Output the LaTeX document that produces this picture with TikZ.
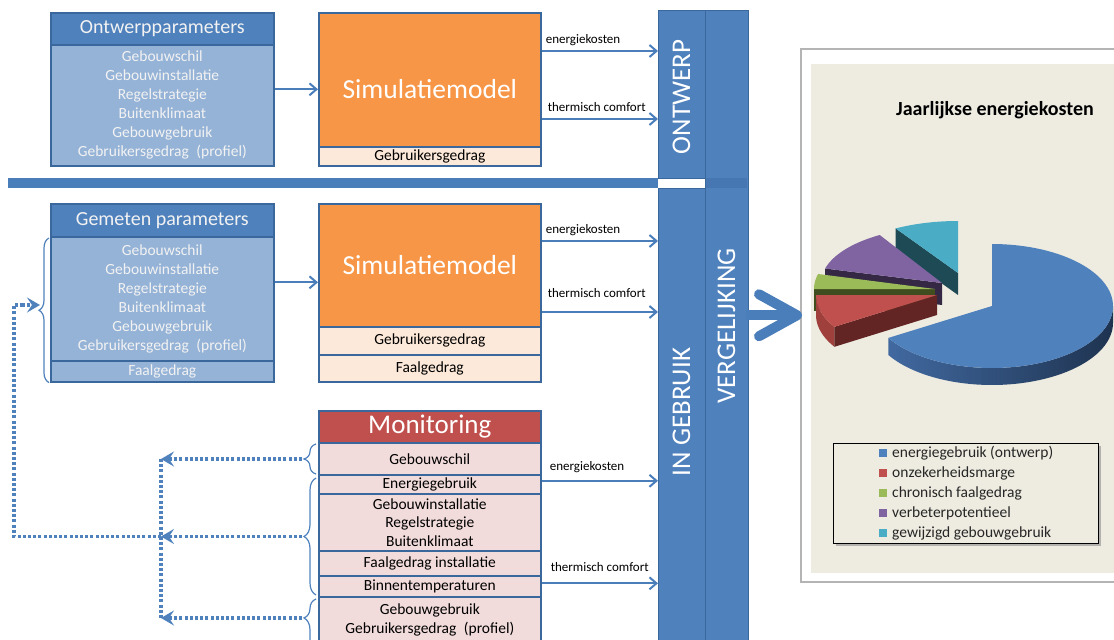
\documentclass[tikz,border=0pt]{standalone}
\usepackage{fontspec}
\setmainfont{Carlito}
\usetikzlibrary{arrows.meta,decorations.pathreplacing,shadows,calc}
\definecolor{hdrblue}{HTML}{4F81BD}
\definecolor{bodyblue}{HTML}{95B3D7}
\definecolor{edgeblue}{HTML}{3A679C}
\definecolor{orng}{HTML}{F79646}
\definecolor{peach}{HTML}{FDE9D9}
\definecolor{monred}{HTML}{C0504D}
\definecolor{pinkrow}{HTML}{F2DCDB}
\definecolor{arrblue}{HTML}{4A7EBB}
\definecolor{beige}{HTML}{EEECE1}
\definecolor{paletext}{HTML}{F2F2F2}
\definecolor{framegray}{HTML}{B4B4B4}
\definecolor{band}{HTML}{4677B2}
\definecolor{pblue}{HTML}{4F81BD}
\definecolor{pblueL}{HTML}{4169A0}
\definecolor{pblueD}{HTML}{1E3350}
\definecolor{pred}{HTML}{C0504D}
\definecolor{predW}{HTML}{A0403D}
\definecolor{predD}{HTML}{632523}
\definecolor{pgreen}{HTML}{9BBB59}
\definecolor{pgreenD}{HTML}{404E1F}
\definecolor{ppurple}{HTML}{8064A2}
\definecolor{ppurpleD}{HTML}{342845}
\definecolor{pcyan}{HTML}{4BACC6}
\definecolor{pcyanD}{HTML}{1E4A55}
\definecolor{legtext}{HTML}{262626}
\begin{document}
\begin{tikzpicture}[x=1pt,y=-1pt,
 cell/.style={draw=edgeblue,line width=1.6pt,anchor=north west,inner sep=0pt,align=center,minimum width=223pt},
 hdr/.style={cell,fill=hdrblue,text=paletext,font=\fontsize{20}{24}\selectfont},
 pbody/.style={cell,fill=bodyblue,text=paletext,font=\fontsize{15.5}{19}\selectfont},
 sim/.style={cell,minimum width=222pt,fill=orng,text=white,font=\fontsize{27.5}{32}\selectfont},
 simrow/.style={cell,minimum width=222pt,fill=peach,text=black,font=\fontsize{15.5}{19}\selectfont},
 monhdr/.style={cell,minimum width=222pt,fill=monred,text=white,font=\fontsize{27}{30}\selectfont},
 monrow/.style={cell,minimum width=222pt,fill=pinkrow,text=black,font=\fontsize{15.5}{18.5}\selectfont},
 vbar/.style={draw=edgeblue,line width=1.2pt,fill=hdrblue,anchor=north west,inner sep=0pt},
 bartext/.style={rotate=90,text=white,inner sep=0pt,font=\fontsize{27}{30}\selectfont},
 arr/.style={draw=arrblue,line width=2pt,-{Straight Barb[length=7pt,width=12pt]}},
 lbl/.style={font=\fontsize{13}{15}\selectfont,anchor=base west,inner sep=0pt},
 dotline/.style={draw=hdrblue,line width=3.2pt,dash pattern=on 3pt off 2.2pt},
 dotarr/.style={dotline,-{Stealth[length=13pt,width=15pt,inset=5pt]}},
 mybrace/.style={draw=hdrblue,line width=1.2pt,decorate,decoration={brace,amplitude=#1}},
 bigarr/.style={draw=arrblue,line width=10pt,-{Straight Barb[length=38pt,width=42pt,round]}},
 legsq/.style={inner sep=0pt,minimum size=8pt},
 legtxt/.style={anchor=west,inner sep=0pt,text=legtext,font=\fontsize{15.5}{18}\selectfont},
]
\useasboundingbox (0,0) rectangle (1114,640);
\clip (0,0) rectangle (1114,640);

% ---------- chart panel ----------
\node[draw=framegray,line width=1.5pt,fill=white,anchor=north west,minimum width=330pt,minimum height=533pt,inner sep=0pt] (chart) at (800,48) {};
\fill[beige] (811,64) rectangle (1125,573);
\node[font=\bfseries\fontsize{20}{24}\selectfont,text=black] (title) at (995,110) {Jaarlijkse energiekosten};

% cyan slice [90,121]
\fill[pcyanD] (958,273) -- ({958+121*cos(121)},{273-52*sin(121)}) -- ++(0,22) -- (958,295) -- cycle;
\fill[pcyan] (958,273) -- plot[domain=90:121,samples=20] ({958+121*cos(\x)},{273-52*sin(\x)}) -- cycle;
% purple slice [121,165]
\fill[ppurpleD] (942,283) -- ({942+121*cos(165)},{283-56*sin(165)}) -- ++(0,22) -- (942,305) -- cycle;
\fill[ppurple] (942,283) -- plot[domain=121:165,samples=25] ({942+121*cos(\x)},{283-56*sin(\x)}) -- cycle;
% green slice [165,180]
\fill[pgreenD] (935,289) -- ({935+121*cos(180)},{289-58*sin(180)}) -- ++(0,22) -- (935,311) -- cycle;
\fill[pgreen] (935,289) -- plot[domain=165:180,samples=12] ({935+121*cos(\x)},{289-58*sin(\x)}) -- cycle;
% red slice [180,212]
\fill[predW] plot[domain=180:212,samples=20] ({937+121*cos(\x)},{295-60*sin(\x)}) -- plot[domain=212:180,samples=20] ({937+121*cos(\x)},{315-60*sin(\x)}) -- cycle;
\fill[predD] (937,295) -- ({937+121*cos(212)},{295-60*sin(212)}) -- ++(0,20) -- (937,315) -- cycle;
\fill[pred] (937,295) -- plot[domain=180:212,samples=20] ({937+121*cos(\x)},{295-60*sin(\x)}) -- cycle;
% blue slice [-149,90]
\shade[left color=pblueL,right color=pblueD] plot[domain=-149:0,samples=50] ({992+121*cos(\x)},{306-62*sin(\x)}) -- plot[domain=0:-149,samples=50] ({992+121*cos(\x)},{323-62*sin(\x)}) -- cycle;
\fill[pblue] (992,306) -- plot[domain=-149:90,samples=80] ({992+121*cos(\x)},{306-62*sin(\x)}) -- cycle;

% legend
\node[draw=black,line width=0.8pt,fill=beige,anchor=north west,minimum width=265pt,minimum height=100pt,inner sep=0pt,
      drop shadow={shadow xshift=3pt,shadow yshift=-3pt,fill=black!45,opacity=0.6}] (legend) at (833,443) {};
\foreach \c/\t [count=\i] in {pblue/energiegebruik (ontwerp),pred/onzekerheidsmarge,pgreen/chronisch faalgedrag,ppurple/verbeterpotentieel,pcyan/gewijzigd gebouwgebruik}{
  \node[legsq,fill=\c] (sq\i) at (883,{433+20*\i}) {};
  \node[legtxt] (lt\i) at (892,{433+20*\i}) {\t};
}

% ---------- top: ontwerp ----------
\node[hdr,minimum height=32pt] (oph) at (50,12) {Ontwerpparameters};
\node[pbody,minimum height=121pt] (opb) at (50,44) {Gebouwschil\\Gebouwinstallatie\\Regelstrategie\\Buitenklimaat\\Gebouwgebruik\\Gebruikersgedrag\hspace{4pt} (profiel)};
\node[sim,text height=86pt,text depth=48pt] (s1) at (318,12) {Simulatiemodel};
\node[simrow,minimum height=19pt] (s1f) at (318,146) {Gebruikersgedrag};

% ---------- middle: gemeten ----------
\node[hdr,minimum height=33pt] (gph) at (50,203) {Gemeten parameters};
\node[pbody,minimum height=124pt] (gpb) at (50,236) {Gebouwschil\\Gebouwinstallatie\\Regelstrategie\\Buitenklimaat\\Gebouwgebruik\\Gebruikersgedrag\hspace{4pt} (profiel)};
\node[pbody,minimum height=21pt] (gpf) at (50,360) {Faalgedrag};
\node[sim,minimum height=123pt] (s2) at (318,203) {Simulatiemodel};
\node[simrow,minimum height=28pt] (s2a) at (318,326) {Gebruikersgedrag};
\node[simrow,minimum height=27pt] (s2b) at (318,354) {Faalgedrag};

% ---------- monitoring ----------
\node[monhdr,minimum height=32pt] (mh) at (318,410) {Monitoring};
\node[monrow,minimum height=32pt] (m1) at (318,442) {Gebouwschil};
\node[monrow,minimum height=19pt] (m2) at (318,474) {Energiegebruik};
\node[monrow,minimum height=57pt] (m3) at (318,493) {Gebouwinstallatie\\Regelstrategie\\Buitenklimaat};
\node[monrow,minimum height=25pt] (m4) at (318,550) {Faalgedrag installatie};
\node[monrow,minimum height=21pt] (m5) at (318,575) {Binnentemperaturen};
\node[monrow,minimum height=46pt] (m6) at (318,596) {Gebouwgebruik\\Gebruikersgedrag\hspace{4pt} (profiel)};

% ---------- bars ----------
\node[fill=arrblue,anchor=north west,minimum width=650pt,minimum height=10pt,inner sep=0pt] (sep) at (8,178) {};
\node[vbar,minimum width=47pt,minimum height=168pt] (ontw) at (658,10) {};
\node[vbar,minimum width=47pt,minimum height=470pt] (inge) at (658,188) {};
\node[vbar,minimum width=43pt,minimum height=650pt] (verg) at (705,10) {};
\fill[band] (705.6,178) rectangle (747.4,188);
\node[bartext] (ontwt) at (681.5,97) {ONTWERP};
\node[bartext] (inget) at (681.5,412) {IN GEBRUIK};
\node[bartext] (vergt) at (726.5,326) {VERGELIJKING};

% ---------- arrows into simulation models ----------
\coordinate (opmid) at ($(oph.north east)!0.5!(opb.south east)$);
\coordinate (gpmid) at ($(gph.north east)!0.5!(gpb.south east)$);
\draw[arr] (opmid) -- (opmid -| s1.west);
\draw[arr] (gpmid) -- (gpmid -| s2.west);

% ---------- output arrows ----------
\coordinate (e1) at ([yshift=-39pt]s1.north east);
\coordinate (t1) at ([yshift=-107pt]s1.north east);
\coordinate (e2) at ([yshift=-38pt]s2.north east);
\coordinate (t2) at ([yshift=-109pt]s2.north east);
\coordinate (e3) at ([yshift=3.5pt]m2.east);
\coordinate (t3) at ([yshift=3pt]m5.east);
\draw[arr] (e1) -- (e1 -| ontw.west);
\draw[arr] (t1) -- (t1 -| ontw.west);
\draw[arr] (e2) -- (e2 -| inge.west);
\draw[arr] (t2) -- (t2 -| inge.west);
\draw[arr] (e3) -- (e3 -| inge.west);
\draw[arr] (t3) -- (t3 -| inge.west);
\node[lbl] (le1) at ([xshift=4pt,yshift=7.5pt]e1) {energiekosten};
\node[lbl] (lt1) at ([xshift=6pt,yshift=7.5pt]t1) {thermisch comfort};
\node[lbl] (le2) at ([xshift=4pt,yshift=7.5pt]e2) {energiekosten};
\node[lbl] (lt2) at ([xshift=6pt,yshift=14.5pt]t2) {thermisch comfort};
\node[lbl] (le3) at ([xshift=8pt,yshift=10.5pt]e3) {energiekosten};
\node[lbl] (lt3) at ([xshift=9pt,yshift=12pt]t3) {thermisch comfort};

% ---------- big comparison arrow ----------
\draw[bigarr] ([xshift=-3pt]verg.east |- chart.west) -- ([xshift=2pt]chart.west);

% ---------- braces ----------
\draw[mybrace=10pt] ([xshift=-1pt]gpf.south west) -- ([xshift=-1pt,yshift=-2pt]gpb.north west);
\draw[mybrace=12pt] (316,474) -- (316,444);
\draw[mybrace=12pt] (316,595) -- (316,478);
\draw[mybrace=12pt,decoration={aspect=0.69}] (316,660) -- (316,599);

% ---------- dotted feedback arrows ----------
\coordinate (gtip) at (40,305);
\coordinate (mt1) at (302,459);
\coordinate (mt2) at (302,536.5);
\coordinate (mt3) at (302,618);
\coordinate (c1) at (161,459);
\coordinate (c2) at (161,536.5);
\coordinate (c3) at (161,618);
\coordinate (lb) at (14,536.5);
\coordinate (lt) at (14,305);
\draw[dotline] (c1) -- (c3);
\draw[dotline] (c2) -- (lb) -- (lt) -- (22,305);
\draw[dotarr] (22,305) -- (gtip);
\draw[dotarr] (mt1) -- (c1);
\draw[dotarr] (mt2) -- (c2);
\draw[dotarr] (mt3) -- (c3);
\end{tikzpicture}
\end{document}
